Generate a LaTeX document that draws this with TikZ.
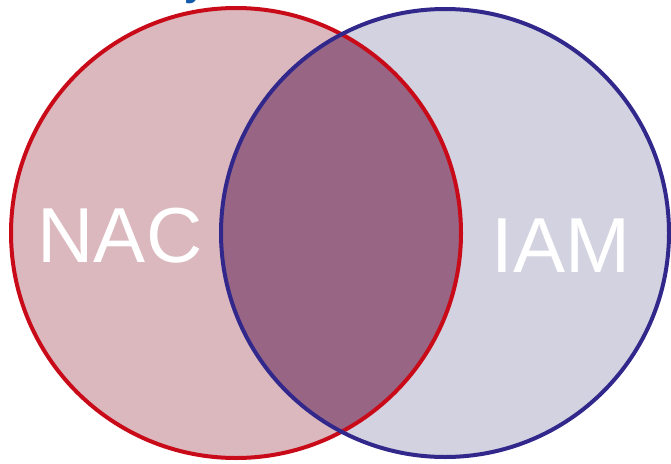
\documentclass[tikz,border=0pt]{standalone}
\usepackage{fontspec}
\setmainfont{Liberation Sans}
\definecolor{redline}{RGB}{200,10,25}
\definecolor{blueline}{RGB}{50,40,140}
\definecolor{redfill}{RGB}{218,184,190}
\definecolor{bluefill}{RGB}{210,210,224}
\definecolor{bothfill}{RGB}{152,102,132}
\definecolor{titleblue}{RGB}{20,90,170}
\tikzset{
  setlabel/.style={text=white, font=\fontsize{78}{78}\selectfont, inner sep=0pt},
  ring/.style={line width=4pt}
}
\begin{document}
\begin{tikzpicture}[x=1pt,y=-1pt]
\useasboundingbox (0,0) rectangle (671,463);
\clip (0,0) rectangle (671,463);
\coordinate (cr) at (236,233);
\coordinate (cb) at (445,233);
% fills
\fill[redfill] (cr) circle[radius=225];
\fill[bluefill] (cb) circle[radius=224];
\begin{scope}
  \clip (cr) circle[radius=225];
  \fill[bothfill] (cb) circle[radius=224];
\end{scope}
% outlines
\draw[ring, redline] (cr) circle[radius=225];
\draw[ring, blueline] (cb) circle[radius=224];
% labels
\node[setlabel, anchor=base] (nac) at (120,262) {NAC};
\node[setlabel, anchor=base] (iam) at (561,272) {IAM};
% clipped title fragment (only its descender shows, as in the reference)
\node[text=titleblue, font=\bfseries\fontsize{40}{40}\selectfont, anchor=base, inner sep=0pt] (title) at (196,-4.5) {y};
\end{tikzpicture}
\end{document}
